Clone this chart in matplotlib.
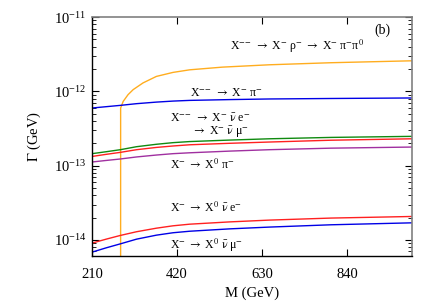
import matplotlib

matplotlib.use("Agg")
import matplotlib.pyplot as plt
from matplotlib.ticker import LogLocator, NullFormatter

plt.rcParams["font.family"] = ["Liberation Serif", "DejaVu Serif"]
plt.rcParams["mathtext.fontset"] = "stix"

mass = [210, 245, 280, 320, 369, 410, 451, 550, 648, 800, 1000]

# Gamma in GeV
g_pi_dd = [5.97e-13, 6.22e-13, 6.48e-13, 6.83e-13, 7.17e-13, 7.40e-13,
           7.56e-13, 7.75e-13, 7.90e-13, 8.02e-13, 8.15e-13]
g_e_dd = [1.45e-13, 1.54e-13, 1.64e-13, 1.80e-13, 1.94e-13, 2.04e-13,
          2.11e-13, 2.21e-13, 2.30e-13, 2.40e-13, 2.48e-13]
g_mu_dd = [1.33e-13, 1.42e-13, 1.51e-13, 1.64e-13, 1.76e-13, 1.84e-13,
           1.91e-13, 2.00e-13, 2.08e-13, 2.20e-13, 2.30e-13]
g_pi_d = [1.12e-13, 1.175e-13, 1.23e-13, 1.31e-13, 1.39e-13, 1.45e-13,
          1.49e-13, 1.57e-13, 1.64e-13, 1.72e-13, 1.78e-13]
g_e_d = [0.906e-14, 1.025e-14, 1.15e-14, 1.29e-14, 1.44e-14, 1.55e-14,
         1.63e-14, 1.75e-14, 1.85e-14, 1.97e-14, 2.07e-14]
g_mu_d = [0.685e-14, 0.783e-14, 0.886e-14, 1.025e-14, 1.16e-14, 1.25e-14,
          1.31e-14, 1.41e-14, 1.49e-14, 1.60e-14, 1.70e-14]

# rho channel opens near M ~ 280 GeV
mass_rho = [280.6, 280.7, 287, 299, 311.6, 336, 369, 410, 451, 532, 648,
            800, 1000]
g_rho = [1e-16, 5.97e-13, 7.33e-13, 9.03e-13, 1.055e-12, 1.30e-12, 1.59e-12,
         1.80e-12, 1.95e-12, 2.12e-12, 2.28e-12, 2.43e-12, 2.58e-12]

fig = plt.figure(figsize=(4.36, 3.05), dpi=100)
ax = fig.add_axes([0.211, 0.161, 0.734, 0.783])

lw = 1.0
ax.plot(mass_rho, g_rho, color="#ffad1f", lw=lw)
ax.plot(mass, g_pi_dd, color="#0000e6", lw=lw)
ax.plot(mass, g_e_dd, color="#108a10", lw=lw)
ax.plot(mass, g_mu_dd, color="#ff2020", lw=lw)
ax.plot(mass, g_pi_d, color="#a030a0", lw=lw)
ax.plot(mass, g_e_d, color="#ff2020", lw=lw)
ax.plot(mass, g_mu_d, color="#0000e6", lw=lw)

ax.set_yscale("log")
ax.set_xlim(210, 1000)
ax.set_ylim(6.1e-15, 1e-11)
ax.set_xticks([210, 420, 630, 840])
ax.yaxis.set_major_locator(LogLocator(base=10, numticks=10))
ax.yaxis.set_minor_locator(LogLocator(base=10, subs=range(2, 10), numticks=20))
ax.yaxis.set_minor_formatter(NullFormatter())
ax.tick_params(which="both", direction="in", top=True, right=True,
               labelsize=10.5)
ax.tick_params(which="major", length=5, width=0.8)
ax.tick_params(which="minor", length=3, width=0.6)
ax.tick_params(axis="x", pad=9)
ax.tick_params(axis="y", pad=4)

for side in ["top", "right"]:
    ax.spines[side].set_color("#808080")
    ax.spines[side].set_linewidth(1.2)
for side in ["left", "bottom"]:
    ax.spines[side].set_linewidth(1.0)

ax.set_xlabel("M (GeV)", fontsize=10.5, labelpad=4)
ax.set_ylabel(r"$\Gamma$ (GeV)", fontsize=10.5, labelpad=8)

fs = 8.5
NUB = r"$\bar{\mathrm{\nu}}$"
MM = r"$^{-\!-}$"
AR = r" $\rightarrow$ "


def label(x, y, s, ha="left", size=fs):
    fig.text(x / 436, 1 - y / 305, s, fontsize=size, va="center", ha=ha)


label(382, 30, "(b)", ha="center", size=10)
label(230, 46, "X" + MM + AR + "X$^{-}$ ρ$^{-}$" + AR + "X$^{-}$ π$^{-}$π$^{0}$")
label(190, 93, "X" + MM + AR + "X$^{-}$ π$^{-}$")
label(170, 119, "X" + MM + AR + "X$^{-}$ " + NUB + " e$^{-}$")
label(192, 132.5, "$\\rightarrow$ X$^{-}$ " + NUB + " μ$^{-}$")
label(170, 165, "X$^{-}$" + AR + "X$^{0}$ π$^{-}$")
label(170, 208, "X$^{-}$" + AR + "X$^{0}$ " + NUB + " e$^{-}$")
label(170, 245, "X$^{-}$" + AR + "X$^{0}$ " + NUB + " μ$^{-}$")

fig.savefig("out.png", dpi=100)
